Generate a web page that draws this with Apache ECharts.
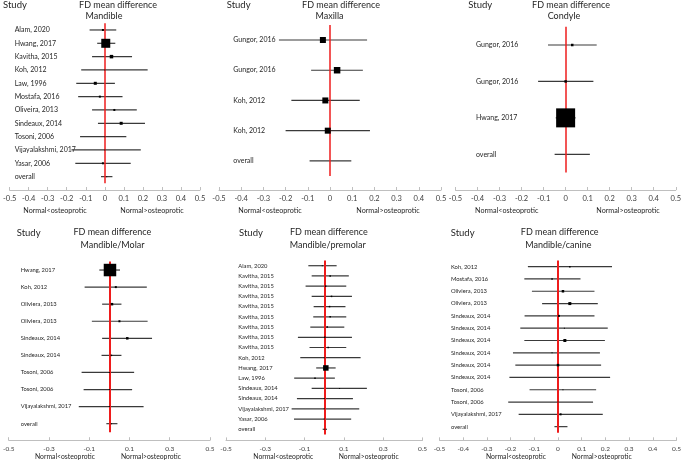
<!DOCTYPE html>
<html><head><meta charset="utf-8">
<script src="https://cdn.jsdelivr.net/npm/echarts@6/dist/echarts.min.js"></script>
<style>html,body{margin:0;padding:0;background:#fff}#c{width:684px;height:462px}</style>
</head><body><div id="c"></div>
<script>
// ---------- Data ----------
const mandibleStudies = ['Alam, 2020','Hwang, 2017','Kavitha, 2015','Koh, 2012','Law, 1996','Mostafa, 2016','Oliveira, 2013','Sindeaux, 2014','Tosoni, 2006','Vijayalakshmi, 2017','Yasar, 2006','overall'];
const mandibleMean = [-0.01, 0.005, 0.035, 0.0, -0.05, -0.026, 0.05, 0.086, 0.0, 0.0, -0.01, 0.01];
const mandibleLow  = [-0.08, -0.04, -0.067, -0.124, -0.15, -0.14, -0.067, -0.036, -0.13, -0.175, -0.155, -0.02];
const mandibleHigh = [0.06, 0.055, 0.143, 0.225, 0.053, 0.093, 0.168, 0.211, 0.113, 0.189, 0.136, 0.04];
const mandibleWeight = [2, 9, 3.5, 1, 3, 2, 2, 3, 1, 1, 2, 1];

const maxillaStudies = ['Gungor, 2016','Gungor, 2016','Koh, 2012','Koh, 2012','overall'];
const maxillaMean = [-0.032, 0.032, -0.021, -0.01, 0.0];
const maxillaLow  = [-0.23, -0.085, -0.174, -0.2, -0.092];
const maxillaHigh = [0.167, 0.148, 0.134, 0.18, 0.096];
const maxillaWeight = [6, 6.5, 6, 6, 0];

const condyleStudies = ['Gungor, 2016','Gungor, 2016','Hwang, 2017','overall'];
const condyleMean = [0.03, 0.0, 0.0, 0.0];
const condyleLow  = [-0.08, -0.125, -0.045, -0.05];
const condyleHigh = [0.141, 0.126, 0.045, 0.11];
const condyleWeight = [2.5, 2.5, 19, 0];

const molarStudies = ['Hwang, 2017','Koh, 2012','Oliviera, 2013','Oliviera, 2013','Sindeaux, 2014','Sindeaux, 2014','Tosoni, 2006','Tosoni, 2006','Vijayalakshmi, 2017','overall'];
const molarMean = [0.003, 0.032, 0.013, 0.05, 0.089, 0.01, 0.0, 0.0, 0.0, 0.01];
const molarLow  = [-0.05, -0.123, -0.036, -0.087, -0.036, -0.039, -0.138, -0.128, -0.152, -0.015];
const molarHigh = [0.053, 0.186, 0.06, 0.19, 0.212, 0.06, 0.123, 0.113, 0.17, 0.04];
const molarWeight = [12.5, 2, 2.5, 2, 2.5, 1.5, 1, 1, 1, 1];

const premolarStudies = ['Alam, 2020','Kavitha, 2015','Kavitha, 2015','Kavitha, 2015','Kavitha, 2015','Kavitha, 2015','Kavitha, 2015','Kavitha, 2015','Kavitha, 2015','Koh, 2012','Hwang, 2017','Law, 1996','Sindeaux, 2014','Sindeaux, 2014','Vijayalakshmi, 2017','Yasar, 2006','overall'];
const premolarMean = [-0.01, 0.03, 0.007, 0.037, 0.027, 0.03, 0.015, 0.003, 0.02, 0.0, 0.008, -0.047, 0.078, 0.0, 0.0, 0.0, 0.003];
const premolarLow  = [-0.081, -0.064, -0.095, -0.064, -0.054, -0.056, -0.071, -0.134, -0.075, -0.122, -0.041, -0.153, -0.064, -0.139, -0.166, -0.154, -0.008];
const premolarHigh = [0.063, 0.125, 0.112, 0.141, 0.108, 0.112, 0.102, 0.141, 0.112, 0.185, 0.058, 0.054, 0.217, 0.146, 0.178, 0.137, 0.014];
const premolarWeight = [1, 1.5, 1.5, 1.5, 1.5, 1.5, 1.5, 1.5, 1.5, 1, 5.5, 1.5, 1, 1, 1, 1, 1];

const canineStudies = ['Koh, 2012','Mostafa, 2016','Oliviera, 2013','Oliviera, 2013','Sindeaux, 2014','Sindeaux, 2014','Sindeaux, 2014','Sindeaux, 2014','Sindeaux, 2014','Sindeaux, 2014','Tosoni, 2006','Tosoni, 2006','Vijayalakshmi, 2017','overall'];
const canineMean = [0.05, -0.025, 0.021, 0.05, 0.004, 0.027, 0.029, -0.025, 0.0, 0.004, 0.021, 0.0, 0.011, 0.01];
const canineLow  = [-0.127, -0.142, -0.11, -0.067, -0.141, -0.159, -0.142, -0.19, -0.18, -0.205, -0.12, -0.21, -0.166, -0.015];
const canineHigh = [0.228, 0.095, 0.154, 0.168, 0.154, 0.21, 0.198, 0.177, 0.182, 0.22, 0.161, 0.148, 0.189, 0.04];
const canineWeight = [1.5, 1.5, 2.5, 3, 2, 1, 3, 1, 2.5, 1, 1, 1, 2, 0];

const panelTitles = ['Mandible','Maxilla','Condyle','Mandible/Molar','Mandible/premolar','Mandible/canine'];

// ---------- Layout ----------
const FONT = 'Lato';
const layouts = [
  {left:6.7, width:193.3, top:23.3, height:160, offset:6.7, interval:0.1, labelX:11.7, fs:7, studyX:3, studyY:5, titleX:118, subX:104, titleY:5, subY:16.5, lessX:55, moreX:152, normY:210.5},
  {left:219, width:222, top:24.9, height:151.1, offset:14, interval:0.1, labelX:233.3, fs:7, studyX:226.7, studyY:5, titleX:341, subX:329.5, titleY:5, subY:16.5, lessX:270, moreX:388, normY:210.5},
  {left:455.5, width:223, top:26.8, height:145.7, offset:17.5, interval:0.1, labelX:476, fs:7, studyX:468.3, studyY:5, titleX:571, subX:564, titleY:5, subY:16.5, lessX:506.7, moreX:628, normY:210.5},
  {left:4, width:206, top:261.5, height:170.7, offset:8, interval:0.2, labelX:16, fs:5.8, studyX:16.7, studyY:233, titleX:112.3, subX:112.5, titleY:232, subY:245, lessX:65, moreX:151, normY:456.5},
  {left:226, width:196.5, top:260.6, height:173.8, offset:6, interval:0.2, labelX:238.3, fs:5.8, studyX:239, studyY:233, titleX:328.8, subX:327.7, titleY:232, subY:245, lessX:283.3, moreX:368.7, normY:456.5},
  {left:439.5, width:239.5, top:260.5, height:172.3, offset:7.5, interval:0.1, labelX:451, fs:5.8, studyX:450.7, studyY:233, titleX:559.7, subX:558.3, titleY:232, subY:245, lessX:516, moreX:601.7, normY:456.5}
];

const panelData = [
  [mandibleStudies, mandibleMean, mandibleLow, mandibleHigh, mandibleWeight],
  [maxillaStudies, maxillaMean, maxillaLow, maxillaHigh, maxillaWeight],
  [condyleStudies, condyleMean, condyleLow, condyleHigh, condyleWeight],
  [molarStudies, molarMean, molarLow, molarHigh, molarWeight],
  [premolarStudies, premolarMean, premolarLow, premolarHigh, premolarWeight],
  [canineStudies, canineMean, canineLow, canineHigh, canineWeight]
];

const grid = [], xAxis = [], yAxis = [], series = [], graphic = [];
layouts.forEach((L, i) => {
  const [studies, mean, low, high, weight] = panelData[i];
  const n = studies.length;
  grid.push({left:L.left, width:L.width, top:L.top, height:L.height, containLabel:false});
  xAxis.push({
    type:'value', gridIndex:i, min:-0.5, max:0.5, interval:L.interval, offset:L.offset, position:'bottom',
    splitLine:{show:false},
    axisLine:{show:true, onZero:false, lineStyle:{color:'#bfbfbf', width:1}},
    axisTick:{show:true, inside:true, length:3, lineStyle:{color:'#bfbfbf'}},
    axisLabel:{fontFamily:FONT, fontSize:(i>=3?6.5:7.5), color:'#404040', margin:5,
      formatter: v => Math.abs(v) < 1e-9 ? '0' : (Math.round(v*10)/10).toFixed(1)}
  });
  // hidden value axis used for plotting rows
  yAxis.push({
    type:'value', gridIndex:i, inverse:true, min:-0.5, max:n - 0.5, show:false, position:'left',
    splitLine:{show:false}, axisLine:{onZero:false}
  });
  // category axis used only for the study labels
  yAxis.push({
    type:'category', gridIndex:i, inverse:true, data:studies, boundaryGap:true, position:'left',
    axisLine:{show:false, onZero:false}, axisTick:{show:false}, splitLine:{show:false},
    axisLabel:{align:'left', margin:L.left - L.labelX, fontFamily:FONT, fontSize:L.fs, color:'#262626', interval:0}
  });
  const yIdx = 2 * i;
  series.push({
    type:'custom', xAxisIndex:i, yAxisIndex:yIdx,
    dimensions:['low','high','row'],
    data: studies.map((s, k) => [low[k], high[k], k]),
    encode:{x:['low','high'], y:'row'},
    renderItem:(params, api) => {
      const p1 = api.coord([api.value(0), api.value(2)]);
      const p2 = api.coord([api.value(1), api.value(2)]);
      return {type:'line', shape:{x1:p1[0], y1:p1[1], x2:p2[0], y2:p2[1]},
        style:{stroke:'#3a3a3a', lineWidth:1.2}};
    },
    z:2
  });
  series.push({
    type:'scatter', xAxisIndex:i, yAxisIndex:yIdx,
    data: studies.map((s, k) => [mean[k], k]),
    symbol:'rect',
    symbolSize:(val, params) => weight[params.dataIndex],
    itemStyle:{color:'#000', opacity:1},
    z:5,
    markLine:{silent:true, symbol:'none', label:{show:false}, animation:false,
      lineStyle:{color:'#ee1c1c', width:(i>=3?2:1.5), type:'solid'},
      data:[{xAxis:0}]}
  });
  const ts = {fontFamily:FONT, fill:'#262626'};
  graphic.push({type:'text', x:L.studyX, y:L.studyY, style:Object.assign({text:'Study', fontSize:9.5, verticalAlign:'middle'}, ts)});
  graphic.push({type:'text', x:L.titleX, y:L.titleY, style:Object.assign({text:'FD mean difference', fontSize:9, align:'center', verticalAlign:'middle'}, ts)});
  graphic.push({type:'text', x:L.subX, y:L.subY, style:Object.assign({text:panelTitles[i], fontSize:9, align:'center', verticalAlign:'middle'}, ts)});
  graphic.push({type:'text', x:L.lessX, y:L.normY, style:Object.assign({text:'Normal<osteoprotic', fontSize:(i>=3?6.8:7.2), align:'center', verticalAlign:'middle'}, ts)});
  graphic.push({type:'text', x:L.moreX, y:L.normY, style:Object.assign({text:'Normal>osteoprotic', fontSize:(i>=3?6.8:7.2), align:'center', verticalAlign:'middle'}, ts)});
});

const chart = echarts.init(document.getElementById('c'), null, {renderer:'canvas'});
chart.setOption({animation:false, backgroundColor:'#fff', grid, xAxis, yAxis, series, graphic});
</script>
</body></html>
